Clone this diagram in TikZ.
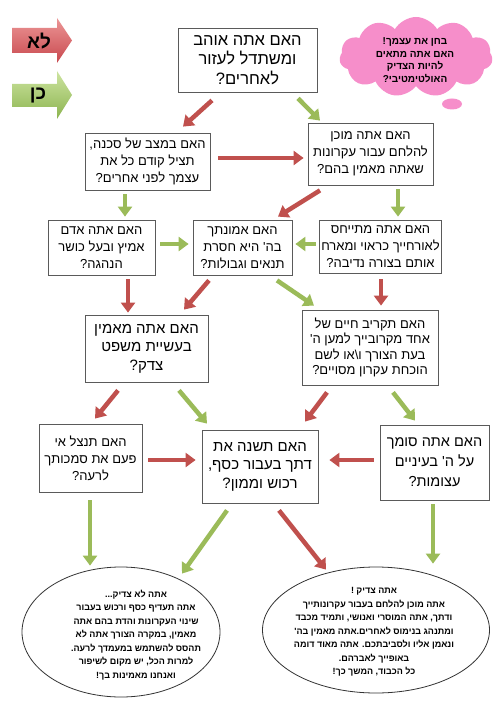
\documentclass[tikz,border=0pt]{standalone}
\usepackage{fontspec}
\usetikzlibrary{arrows.meta,shapes.geometric,shapes.symbols,calc}
\newfontfamily\heb[Script=Hebrew]{Liberation Sans}
\TeXXeTstate=1
\newcommand{\hl}[1]{\beginR #1\endR}
\definecolor{arrred}{RGB}{192,80,77}
\definecolor{arrgreen}{RGB}{155,187,89}
\definecolor{boxgray}{RGB}{90,90,90}
\definecolor{cloudpink}{RGB}{246,142,202}
\definecolor{redtop}{RGB}{236,150,150}
\definecolor{redbot}{RGB}{200,72,78}
\definecolor{greentop}{RGB}{205,228,160}
\definecolor{greenbot}{RGB}{140,180,80}
\tikzset{
  qbox/.style={draw=boxgray, fill=white, line width=0.8pt, align=center, inner sep=2pt,
    font=\heb\fontsize{13}{17}\selectfont},
  bigtext/.style={font=\heb\fontsize{16.5}{19.5}\selectfont},
  midtext/.style={font=\heb\fontsize{15}{18.5}\selectfont},
  trusttext/.style={font=\heb\fontsize{14.5}{20}\selectfont},
  tighttext/.style={font=\heb\fontsize{13}{15.5}\selectfont},
  redarr/.style={draw=arrred, line width=4.5pt, -{Triangle[length=10pt,width=14pt]}},
  greenarr/.style={draw=arrgreen, line width=4.5pt, -{Triangle[length=10pt,width=14pt]}},
  endell/.style={ellipse, draw=black!80, fill=white, line width=0.8pt, inner sep=0pt},
  endtext/.style={align=center, inner sep=0pt, font=\heb\bfseries\fontsize{9}{13.5}\selectfont},
  legtext/.style={inner sep=0pt, font=\heb\bfseries\fontsize{19}{19}\selectfont},
}
\begin{document}
\begin{tikzpicture}[x=1pt,y=-1pt]
\useasboundingbox (0,0) rectangle (500,708);
\fill[white] (0,0) rectangle (500,708);

% legend arrows
\shade[top color=redtop, bottom color=redbot] (12,28) -- (57,28) -- (57,18) -- (72,40.5) -- (57,63) -- (57,53) -- (12,53) -- cycle;
\node[legtext] (no) at (39,41) {\hl{לא}};
\shade[top color=greentop, bottom color=greenbot] (12,84) -- (57,84) -- (57,71) -- (72,95) -- (57,119) -- (57,107) -- (12,107) -- cycle;
\node[legtext] (yes) at (38,96) {\hl{כן}};

% cloud
\node[cloud, cloud puffs=11, cloud puff arc=120, aspect=1.9, fill=cloudpink, inner sep=0pt,
      minimum width=153, minimum height=80] (cloud) at (416,57) {};
\node[ellipse, fill=cloudpink, minimum width=20, minimum height=11, inner sep=0pt] (bubble) at (452,104) {};
\node[align=center, inner sep=0pt, font=\heb\bfseries\fontsize{10}{12.5}\selectfont] (cloudtxt) at (415,60)
  {\hl{בחן את עצמך!}\\\hl{האם אתה מתאים}\\\hl{להיות הצדיק}\\\hl{האולטימטיבי?}};

% question boxes
\node[qbox, bigtext, minimum width=139, minimum height=64] (top) at (247.5,60)
  {\hl{האם אתה אוהב}\\\hl{ומשתדל לעזור}\\\hl{לאחרים?}};
\node[qbox, minimum width=125, minimum height=57] (danger) at (147.5,161.5)
  {\hl{האם במצב של סכנה,}\\\hl{תציל קודם כל את}\\\hl{עצמך לפני אחרים?}};
\node[qbox, minimum width=125, minimum height=62] (ready) at (370.5,154)
  {\hl{האם אתה מוכן}\\\hl{להלחם עבור עקרונות}\\\hl{שאתה מאמין בהם?}};
\node[qbox, minimum width=107, minimum height=55] (brave) at (101.5,247.5)
  {\hl{האם אתה אדם}\\\hl{אמיץ ובעל כושר}\\\hl{הנהגה?}};
\node[qbox, minimum width=99, minimum height=55] (faith) at (242.5,247.5)
  {\hl{האם אמונתך}\\\hl{בה' היא חסרת}\\\hl{תנאים וגבולות?}};
\node[qbox, minimum width=115, minimum height=53] (guests) at (380.5,246.5)
  {\hl{האם אתה מתייחס}\\\hl{לאורחייך כראוי ומארח}\\\hl{אותם בצורה נדיבה?}};
\node[qbox, midtext, minimum width=123, minimum height=67] (justice) at (146.5,348.5)
  {\hl{האם אתה מאמין}\\\hl{בעשיית משפט}\\\hl{צדק?}};
\node[qbox, tighttext, minimum width=136, minimum height=75] (sacrifice) at (370,347.5)
  {\hl{האם תקריב חיים של}\\\hl{אחד מקרובייך למען ה'}\\\hl{בעת הצורך ו\textbackslash או לשם}\\\hl{הוכחת עקרון מסויים?}};
\node[qbox, minimum width=103, minimum height=68] (abuse) at (90.5,458)
  {\hl{האם תנצל אי}\\\hl{פעם את סמכותך}\\\hl{לרעה?}};
\node[qbox, midtext, minimum width=116, minimum height=73] (money) at (260,466.5)
  {\hl{האם תשנה את}\\\hl{דתך בעבור כסף,}\\\hl{רכוש וממון?}};
\node[qbox, trusttext, minimum width=109, minimum height=75] (trust) at (434.5,462.5)
  {\hl{האם אתה סומך}\\\hl{על ה' בעיניים}\\\hl{עצומות?}};

% end ellipses
\node[endell, minimum width=198, minimum height=130] (ellL) at (121,632) {};
\node[endtext] (ellLtxt) at (136,635)
  {\hl{אתה לא צדיק...}\\\hl{אתה תעדיף כסף ורכוש בעבור}\\\hl{שינוי העקרונות והדת בהם אתה}\\\hl{מאמין, במקרה הצורך אתה לא}\\\hl{תהסס להשתמש במעמדך לרעה.}\\\hl{למרות הכל, יש מקום לשיפור}\\\hl{ואנחנו מאמינות בך!}};
\node[endell, minimum width=227, minimum height=126] (ellR) at (376,630) {};
\node[endtext] (ellRtxt) at (374,632)
  {\hl{אתה צדיק !}\\\hl{אתה מוכן להלחם בעבור עקרונותייך}\\\hl{ודתך, אתה המוסרי ואנושי, ותמיד מכבד}\\\hl{ומתנהג בנימוס לאחרים.אתה מאמין בה'}\\\hl{ונאמן אליו ולסביבתכם. אתה מאוד דומה}\\\hl{באופייך לאברהם.}\\\hl{כל הכבוד, המשך כך!}};

% connectors
\draw[redarr]   ($(top.south)+(-35.5,8)$) -- ($(danger.north)+(35.5,-6)$);
\draw[greenarr] ($(top.south)+(50.5,6)$) -- ($(ready.north)+(-50.5,-2)$);
\draw[redarr]   ($(danger.east)+(8,-3.5)$) -- ($(ready.west)+(-4,4)$);
\draw[greenarr] ($(danger.south)+(-22.5,4)$) -- ($(brave.north)+(23.5,-3)$);
\draw[redarr]   ($(ready.south)+(-50.5,5)$) -- ($(faith.north)+(35.5,-3)$);
\draw[greenarr] ($(ready.south)+(27.5,4)$) -- ($(guests.north)+(17.5,-3)$);
\draw[greenarr] ($(brave.east)+(5,-3.5)$) -- ($(faith.west)+(-4,-3.5)$);
\draw[greenarr] ($(guests.west)+(-3,-2.5)$) -- ($(faith.east)+(3,-3.5)$);
\draw[redarr]   ($(brave.south)+(26.5,4)$) -- ($(justice.north)+(-18.5,-2)$);
\draw[redarr]   ($(faith.south)+(-33.5,5)$) -- ($(justice.north)+(37.5,-5)$);
\draw[greenarr] ($(faith.south)+(34.5,5)$) -- ($(sacrifice.north)+(-56,-4)$);
\draw[redarr]   ($(guests.south)+(0.5,6)$) -- ($(sacrifice.north)+(11,-4)$);
\draw[redarr]   ($(justice.south)+(-28.5,8)$) -- ($(abuse.north)+(4.5,-5)$);
\draw[greenarr] ($(justice.south)+(32.5,8)$) -- ($(money.north)+(-53,-6)$);
\draw[redarr]   ($(sacrifice.south)+(-43,7)$) -- ($(money.north)+(45,-8)$);
\draw[greenarr] ($(sacrifice.south)+(23,7)$) -- ($(trust.north)+(-19.5,-4)$);
\draw[redarr]   ($(abuse.east)+(6,2)$) -- ($(money.west)+(-6,-6.5)$);
\draw[redarr]   ($(trust.west)+(-6,-2.5)$) -- ($(money.east)+(11,-6.5)$);
\draw[greenarr] ($(abuse.south)+(-0.5,8)$) -- ($(ellL.north)+(-31,-1)$);
\draw[greenarr] ($(money.south)+(-33,7)$) -- ($(ellL.north)+(61,7)$);
\draw[redarr]   ($(money.south)+(19,7)$) -- ($(ellR.north)+(-50,3)$);
\draw[greenarr] ($(trust.south)+(-1.5,4)$) -- ($(ellR.north)+(57,-3)$);
\end{tikzpicture}
\end{document}
